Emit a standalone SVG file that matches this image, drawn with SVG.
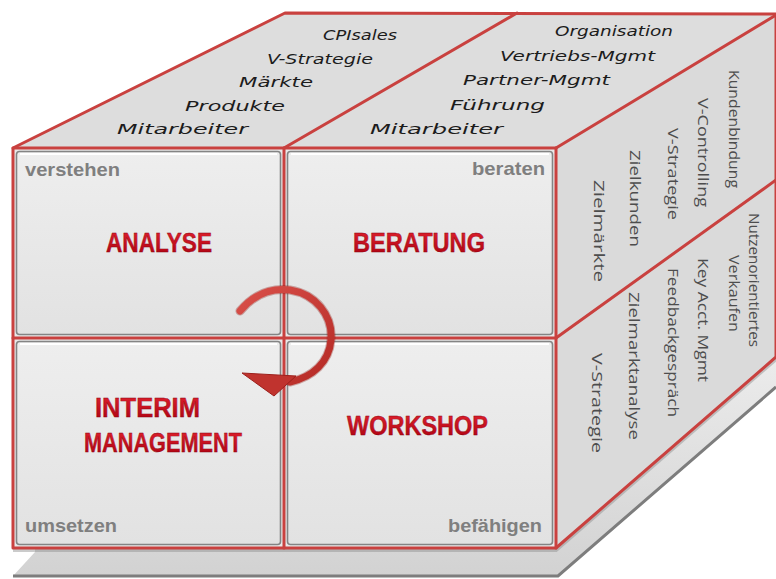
<svg xmlns="http://www.w3.org/2000/svg" width="776" height="579" viewBox="0 0 776 579">
  <defs>
    <linearGradient id="slabG" x1="0" y1="0" x2="0" y2="1">
      <stop offset="0" stop-color="#ececec"/>
      <stop offset="1" stop-color="#d2d2d2"/>
    </linearGradient>
    <linearGradient id="panelG" x1="0" y1="0" x2="0" y2="1">
      <stop offset="0" stop-color="#eeeeee"/>
      <stop offset="1" stop-color="#e2e2e2"/>
    </linearGradient>
    <linearGradient id="titleG" x1="0" y1="0" x2="0" y2="1">
      <stop offset="0" stop-color="#e2232f"/>
      <stop offset="1" stop-color="#a8000f"/>
    </linearGradient>
    <linearGradient id="arrowG" x1="0" y1="0" x2="1" y2="1">
      <stop offset="0" stop-color="#d9504a"/>
      <stop offset="1" stop-color="#b52a25"/>
    </linearGradient>
    <style>
      .red { stroke: #c9413f; stroke-width: 3; fill: none; stroke-linecap: round; stroke-linejoin: round; }
      .shadow { stroke: #8c8c8c; stroke-width: 4; fill: none; opacity: 0.45; }
      .panel { fill: url(#panelG); stroke: #848484; stroke-width: 1.6; }
      .hl { stroke: #ffffff; stroke-width: 2; }
      .top { font-family: "DejaVu Sans", Verdana, sans-serif; font-style: italic; font-size: 14px; fill: #1c1c1c; }
      .side { font-family: "Open Sans", "Liberation Sans", sans-serif; font-size: 15px; fill: #4d4d4d; }
      .corner { font-family: "Liberation Sans", Arial, sans-serif; font-weight: bold; font-size: 19px; fill: #7f7f7f; }
      .title { font-family: "Liberation Sans", Arial, sans-serif; font-weight: bold; font-size: 27px; fill: url(#titleG); stroke: #8a0010; stroke-width: 0.4; }
    </style>
  </defs>

  <rect width="776" height="579" fill="#ffffff"/>

  <!-- base slab -->
  <g id="base">
    <polygon points="13,576 558,576 776,387 776,357 556,548 35,548 35,552" fill="url(#slabG)"/>
    <polyline points="13,576 558,576 776,387" fill="none" stroke="#7d7d7d" stroke-width="3"/>
  </g>

  <!-- top face -->
  <g id="top-left">
    <polygon points="13,148 285,13 517,13 284,148" fill="#dddddd"/>
    <text class="top" x="323" y="40" textLength="74" lengthAdjust="spacingAndGlyphs">CPIsales</text>
    <text class="top" x="267" y="64" textLength="106" lengthAdjust="spacingAndGlyphs">V-Strategie</text>
    <text class="top" x="239" y="87" textLength="74" lengthAdjust="spacingAndGlyphs">Märkte</text>
    <text class="top" x="185" y="111" textLength="100" lengthAdjust="spacingAndGlyphs">Produkte</text>
    <text class="top" x="117" y="134" textLength="131" lengthAdjust="spacingAndGlyphs">Mitarbeiter</text>
  </g>
  <g id="top-right">
    <polygon points="284,148 517,13 776,14 556,148" fill="#dddddd"/>
    <text class="top" x="555" y="36" textLength="118" lengthAdjust="spacingAndGlyphs">Organisation</text>
    <text class="top" x="500" y="61" textLength="155" lengthAdjust="spacingAndGlyphs">Vertriebs-Mgmt</text>
    <text class="top" x="463" y="85" textLength="147" lengthAdjust="spacingAndGlyphs">Partner-Mgmt</text>
    <text class="top" x="450" y="110" textLength="95" lengthAdjust="spacingAndGlyphs">Führung</text>
    <text class="top" x="370" y="134" textLength="133" lengthAdjust="spacingAndGlyphs">Mitarbeiter</text>
  </g>

  <!-- right face -->
  <g id="right-upper">
    <polygon points="556,148 776,15 776,180 556,338" fill="#dadada"/>
    <text class="side" transform="translate(594,180) rotate(90)" textLength="102" lengthAdjust="spacingAndGlyphs">Zielmärkte</text>
    <text class="side" transform="translate(630,150) rotate(90)" textLength="97" lengthAdjust="spacingAndGlyphs">Zielkunden</text>
    <text class="side" transform="translate(668,128) rotate(90)" textLength="92" lengthAdjust="spacingAndGlyphs">V-Strategie</text>
    <text class="side" transform="translate(698,98) rotate(90)" textLength="109" lengthAdjust="spacingAndGlyphs">V-Controlling</text>
    <text class="side" transform="translate(729,70) rotate(90)" textLength="118" lengthAdjust="spacingAndGlyphs">Kundenbindung</text>
  </g>
  <g id="right-lower">
    <polygon points="556,338 776,180 776,357 556,548" fill="#dadada"/>
    <text class="side" transform="translate(592,353) rotate(90)" textLength="100" lengthAdjust="spacingAndGlyphs">V-Strategie</text>
    <text class="side" transform="translate(629,292) rotate(90)" textLength="148" lengthAdjust="spacingAndGlyphs">Zielmarktanalyse</text>
    <text class="side" transform="translate(668,268) rotate(90)" textLength="149" lengthAdjust="spacingAndGlyphs">Feedbackgespräch</text>
    <text class="side" transform="translate(698,258) rotate(90)" textLength="124" lengthAdjust="spacingAndGlyphs">Key Acct. Mgmt</text>
    <text class="side" transform="translate(749,213) rotate(90)" textLength="134" lengthAdjust="spacingAndGlyphs">Nutzenorientiertes</text>
    <text class="side" transform="translate(729,255) rotate(90)" textLength="77" lengthAdjust="spacingAndGlyphs">Verkaufen</text>
  </g>

  <!-- front face background -->
  <rect x="13" y="148" width="543" height="400" fill="#e9e9e9"/>

  <g id="analyse">
    <rect class="panel" x="16.5" y="151.5" width="264" height="183" rx="3"/>
    <line class="hl" x1="20" y1="154" x2="277" y2="154"/>
    <text class="corner" x="25" y="176" textLength="95" lengthAdjust="spacingAndGlyphs">verstehen</text>
    <text class="title" x="106" y="252" textLength="106" lengthAdjust="spacingAndGlyphs">ANALYSE</text>
  </g>
  <g id="beratung">
    <rect class="panel" x="287.5" y="151.5" width="265" height="183" rx="3"/>
    <line class="hl" x1="291" y1="154" x2="549" y2="154"/>
    <text class="corner" x="472" y="175" textLength="73" lengthAdjust="spacingAndGlyphs">beraten</text>
    <text class="title" x="353" y="252" textLength="132" lengthAdjust="spacingAndGlyphs">BERATUNG</text>
  </g>
  <g id="interim">
    <rect class="panel" x="16.5" y="341.5" width="264" height="203" rx="3"/>
    <line class="hl" x1="20" y1="344" x2="277" y2="344"/>
    <text class="corner" x="25" y="532" textLength="92" lengthAdjust="spacingAndGlyphs">umsetzen</text>
    <text class="title" x="95" y="417" textLength="105" lengthAdjust="spacingAndGlyphs">INTERIM</text>
    <text class="title" x="84" y="452" textLength="158" lengthAdjust="spacingAndGlyphs">MANAGEMENT</text>
  </g>
  <g id="workshop">
    <rect class="panel" x="287.5" y="341.5" width="265" height="203" rx="3"/>
    <line class="hl" x1="291" y1="344" x2="549" y2="344"/>
    <text class="corner" x="448" y="532" textLength="94" lengthAdjust="spacingAndGlyphs">befähigen</text>
    <text class="title" x="347" y="435" textLength="141" lengthAdjust="spacingAndGlyphs">WORKSHOP</text>
  </g>

  <!-- cube edges -->
  <g id="edges">
    <polyline class="shadow" points="13,550 556,550 776,359"/>
    <polygon class="red" points="13,148 285,13 776,14 776,357 556,548 13,548"/>
    <line class="red" x1="13" y1="148" x2="556" y2="148"/>
    <line class="red" x1="556" y1="148" x2="556" y2="548"/>
    <line class="red" x1="556" y1="148" x2="776" y2="15"/>
    <line class="red" x1="284" y1="148" x2="517" y2="13"/>
    <line class="red" x1="284" y1="148" x2="284" y2="548"/>
    <line class="red" x1="13" y1="338" x2="556" y2="338"/>
    <line class="red" x1="556" y1="338" x2="776" y2="180"/>
  </g>

  <!-- connector: circular arrow -->
  <g id="connectors">
    <path d="M240,311 C255,293 273,288 290,290 C315,294 333,315 331,340 C329,362 313,377 290,382" fill="none" stroke="#8f1c18" stroke-width="9" stroke-linecap="round" opacity="0.35"/>
    <path d="M240,311 C255,293 273,288 290,290 C315,294 333,315 331,340 C329,362 313,377 290,382" fill="none" stroke="url(#arrowG)" stroke-width="7" stroke-linecap="round"/>
    <polygon points="242,373 296,376 274,396" fill="#c0332e" stroke="#9c201c" stroke-width="1" stroke-linejoin="round"/>
  </g>
</svg>
